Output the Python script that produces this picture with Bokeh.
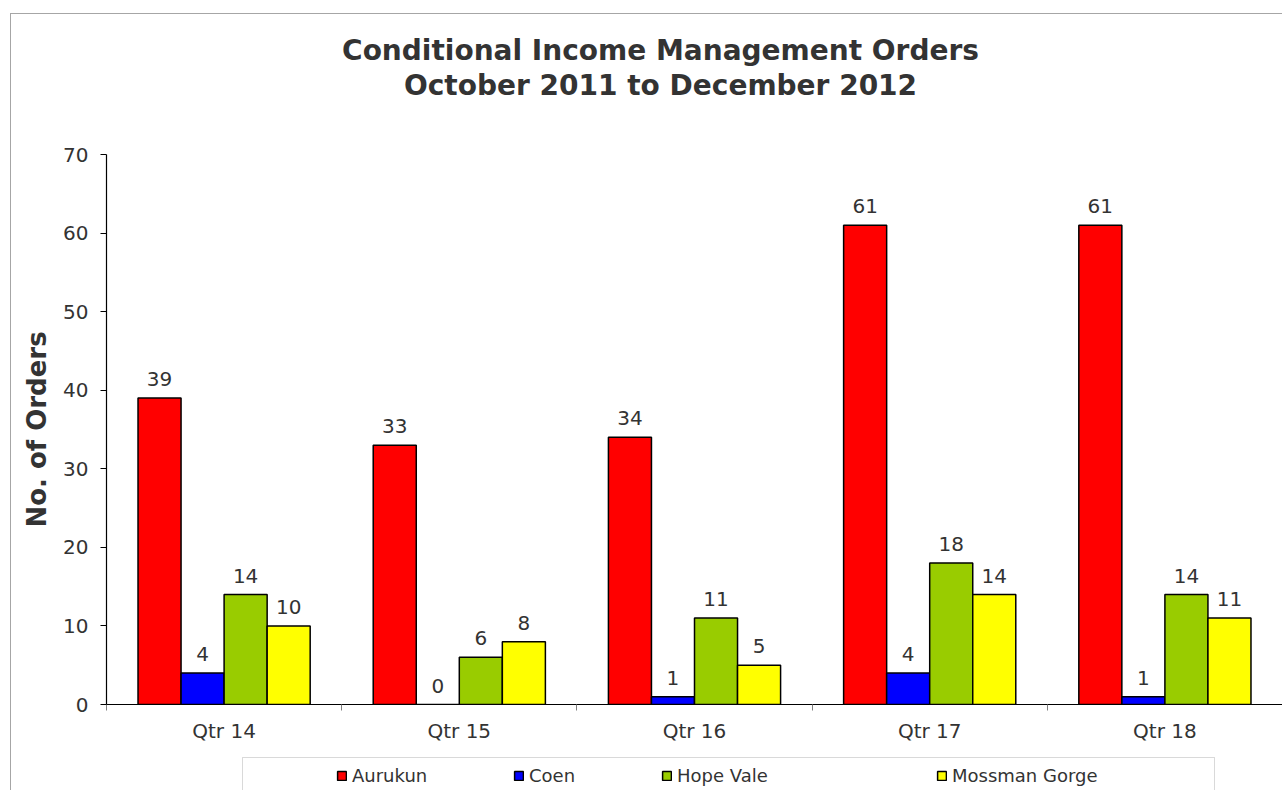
from bokeh.plotting import figure
from bokeh.layouts import column
from bokeh.models import (Range1d, FixedTicker, SingleIntervalTicker, Legend,
                          LegendItem, ColumnDataSource, Label, BoxAnnotation)
from bokeh.transform import dodge
from bokeh.embed import file_html
from bokeh.resources import INLINE
from bokeh.core.properties import value

# ---- data ----
quarters = ["Qtr 14", "Qtr 15", "Qtr 16", "Qtr 17", "Qtr 18"]
series = ["Aurukun", "Coen", "Hope Vale", "Mossman Gorge"]
aurukun = [39, 33, 34, 61, 61]
coen = [4, 0, 1, 4, 1]
hope_vale = [14, 6, 11, 18, 14]
mossman_gorge = [10, 8, 5, 14, 11]
colors = ["#FF0000", "#0000FF", "#99CC00", "#FFFF00"]
title_lines = ["Conditional Income Management Orders", "October 2011 to December 2012"]
y_label = "No. of Orders"
y_max = 70

values = [aurukun, coen, hope_vale, mossman_gorge]

FONT = "DejaVu Sans"
TXT = "#333333"
W = 1271
FRAME_L = 95
H_TOP, H_MAIN, H_LEG = 110, 621, 45


def blank(height):
    # frames of a column are aligned, so this frame spans canvas px FRAME_L..W
    f = figure(width=W, height=height, output_backend="svg", toolbar_location=None,
               x_range=Range1d(FRAME_L, W), y_range=Range1d(height, 0),
               x_axis_type=None, y_axis_type=None, min_border=0)
    f.outline_line_color = None
    f.xgrid.visible = False
    f.ygrid.visible = False
    return f


# ---- title strip ----
p0 = blank(H_TOP)
for txt, yy in zip(title_lines, [36, 71]):
    p0.add_layout(Label(x=649, y=yy, text=txt, text_align="center", text_baseline="middle",
                        text_font=FONT, text_font_size="28px", text_font_style="bold",
                        text_color=TXT))

# ---- main chart ----
p = figure(width=W, height=H_MAIN, output_backend="svg", toolbar_location=None,
           x_range=Range1d(0, len(quarters)), y_range=Range1d(0, y_max),
           min_border_left=FRAME_L, min_border_right=0, min_border_top=30, min_border_bottom=39)
p.outline_line_color = None
p.xgrid.visible = False
p.ygrid.visible = False

centers = [i + 0.5 for i in range(len(quarters))]
bar_w = 0.183
offsets = [-1.5 * bar_w, -0.5 * bar_w, 0.5 * bar_w, 1.5 * bar_w]

sources = []
for name, vals, col, off in zip(series, values, colors, offsets):
    src = ColumnDataSource(dict(xc=centers, top=vals, lab=[str(v) for v in vals]))
    sources.append(src)
    p.vbar(x=dodge("xc", off, range=p.x_range), top="top", bottom=0, width=bar_w,
           source=src, fill_color=col, line_color="#000000", line_width=1.5)
    p.text(x=dodge("xc", off, range=p.x_range), y="top", text="lab", source=src,
           text_align="center", text_baseline="bottom", y_offset=-12,
           text_font=value(FONT), text_font_size="20px", text_color=TXT)

xa = p.xaxis[0]
xa.ticker = FixedTicker(ticks=centers, minor_ticks=list(range(len(quarters) + 1)))
xa.major_label_overrides = {c: q for c, q in zip(centers, quarters)}
xa.major_tick_line_color = None
xa.major_tick_in = 0
xa.major_tick_out = 0
xa.minor_tick_in = 0
xa.minor_tick_out = 6
xa.minor_tick_line_color = "#808080"
xa.axis_line_color = "#000000"
xa.axis_line_width = 1.2
xa.major_label_text_font = FONT
xa.major_label_text_font_size = "20px"
xa.major_label_text_color = TXT
xa.major_label_standoff = 8

ya = p.yaxis[0]
ya.ticker = SingleIntervalTicker(interval=10, num_minor_ticks=0)
ya.major_tick_in = 0
ya.major_tick_out = 6
ya.major_tick_line_color = "#000000"
ya.minor_tick_line_color = None
ya.axis_line_color = "#000000"
ya.axis_line_width = 1.2
ya.major_label_text_font = FONT
ya.major_label_text_font_size = "20px"
ya.major_label_text_color = TXT
ya.major_label_standoff = 12
ya.axis_label = y_label
ya.axis_label_text_font = FONT
ya.axis_label_text_font_size = "26px"
ya.axis_label_text_font_style = "bold"
ya.axis_label_text_color = TXT
ya.axis_label_standoff = 8

# ---- legend strip ----
p2 = blank(H_LEG)
p2.add_layout(BoxAnnotation(left=231, right=1203, top=12, bottom=80,
                            fill_alpha=0, line_color="#808080", line_width=1))
item_x = [230, 407, 555, 830]   # offsets from the frame's left edge, px
for name, col, src, off, xx in zip(series, colors, sources, offsets, item_x):
    # legend proxy with the same data; hidden, only its legend swatch is drawn
    r = p2.vbar(x=dodge("xc", off), top="top", bottom=0, width=bar_w, source=src,
                fill_color=col, line_color="#000000", line_width=1.5, visible=False)
    lg = Legend(items=[LegendItem(label=name, renderers=[r])], location=(xx, 4),
                orientation="horizontal", padding=0, margin=0, spacing=0,
                glyph_width=11, glyph_height=11, label_standoff=5,
                label_text_font=FONT, label_text_font_size="18px", label_text_color=TXT,
                border_line_color=None, background_fill_alpha=0,
                click_policy="none", inactive_fill_alpha=0)
    p2.add_layout(lg, "center")

layout = column(p0, p, p2, spacing=0)
layout.styles = {"margin-left": "10px", "margin-top": "13px",
                 "border-left": "1px solid #a6a6a6", "border-top": "1px solid #a6a6a6"}

open("out.html", "w").write(file_html(layout, INLINE))
